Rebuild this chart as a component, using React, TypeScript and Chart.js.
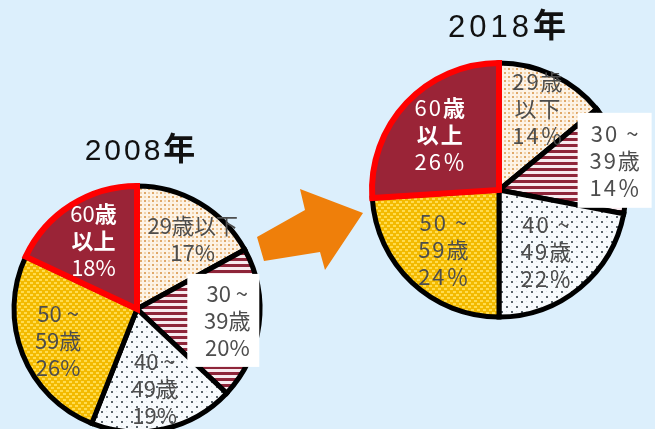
import React, { useEffect, useRef } from "react";
import { Chart, registerables } from "chart.js";

Chart.register(...registerables);

// ---- data ----
const CATEGORIES = ["29歳以下", "30～39歳", "40～49歳", "50～59歳", "60歳以上"];
const VALUES_2008 = [17, 20, 19, 26, 18];
const VALUES_2018 = [14, 14, 22, 24, 26];
const YEAR_2008 = "2008";
const YEAR_2018 = "2018";
const YEAR_SUFFIX = "年";
// label lines (before the percentage); *...* marks bold text
const LINES_2008 = [["29歳以下"], ["30 ~", "39歳"], ["40 ~", "49歳"], ["50 ~", "59歳"], ["60*歳*", "*以上*"]];
const LINES_2018 = [["29歳", "以下"], ["30 ~", "39歳"], ["40 ~", "49歳"], ["50 ~", "59歳"], ["60*歳*", "*以上*"]];

const BG = "#DCEFFC";
const CJK = "'Noto Sans CJK JP', 'Noto Sans', sans-serif";

function makePatterns(): (CanvasPattern | string)[] {
  const mk = (w: number, h: number, draw: (c: CanvasRenderingContext2D) => void) => {
    const cv = document.createElement("canvas");
    cv.width = w;
    cv.height = h;
    const c = cv.getContext("2d")!;
    draw(c);
    return c.createPattern(cv, "repeat")!;
  };
  const dots = mk(8, 8, (c) => {
    c.fillStyle = "#FDF3E6";
    c.fillRect(0, 0, 8, 8);
    c.fillStyle = "#E0A868";
    c.fillRect(0, 0, 2, 2);
    c.fillRect(4, 4, 2, 2);
    c.fillStyle = "#F1D3AC";
    c.fillRect(4, 0, 2, 2);
    c.fillRect(0, 4, 2, 2);
  });
  const stripes = mk(6, 6, (c) => {
    c.fillStyle = "#F7EAEE";
    c.fillRect(0, 0, 6, 6);
    c.fillStyle = "#8E2539";
    c.fillRect(0, 0, 6, 3);
  });
  const grayDots = mk(10, 10, (c) => {
    c.fillStyle = "#F7FAFC";
    c.fillRect(0, 0, 10, 10);
    c.fillStyle = "#5B646C";
    c.fillRect(1, 1, 2, 2);
    c.fillRect(6, 6, 2, 2);
    c.fillStyle = "#DDE3E8";
    c.fillRect(6, 1, 1, 1);
    c.fillRect(1, 6, 1, 1);
  });
  const yellow = mk(6, 6, (c) => {
    c.fillStyle = "#F3BA00";
    c.fillRect(0, 0, 6, 6);
    c.fillStyle = "#FFDC50";
    c.fillRect(0, 0, 3, 2);
    c.fillRect(3, 3, 3, 2);
  });
  return [dots, stripes, grayDots, yellow, "#9A2437"];
}

function drawRich(
  ctx: CanvasRenderingContext2D,
  text: string,
  cx: number,
  cy: number,
  size: number,
  family: string,
  spacing: number,
  color: string
) {
  const segs = text
    .split("*")
    .map((t, i) => ({ t, bold: i % 2 === 1 }))
    .filter((s) => s.t.length > 0);
  ctx.save();
  (ctx as any).letterSpacing = spacing + "px";
  ctx.textBaseline = "middle";
  ctx.textAlign = "left";
  ctx.fillStyle = color;
  let total = 0;
  const widths = segs.map((s) => {
    ctx.font = `${s.bold ? "bold " : ""}${size}px ${family}`;
    const w = ctx.measureText(s.t).width;
    total += w;
    return w;
  });
  total -= spacing;
  let x = cx - total / 2;
  segs.forEach((s, i) => {
    ctx.font = `${s.bold ? "bold " : ""}${size}px ${family}`;
    ctx.fillText(s.t, x, cy);
    x += widths[i];
  });
  ctx.restore();
}

interface LabelCfg {
  lines: string[][];
  pct: string;
  radius: number[];
  nudge: number[][];
  size: number;
  lineHeight: number;
  spacing: number;
  colors: string[];
  boxes: ({ w: number; h: number; dx: number } | null)[];
}

function labelPlugin(cfg: LabelCfg) {
  return {
    id: "sliceLabels",
    afterDatasetsDraw(chart: any) {
      const ctx: CanvasRenderingContext2D = chart.ctx;
      const meta = chart.getDatasetMeta(0);
      const values = chart.data.datasets[0].data as number[];
      meta.data.forEach((arc: any, i: number) => {
        const p = arc.getProps(["x", "y", "startAngle", "endAngle", "outerRadius"], true);
        const mid = (p.startAngle + p.endAngle) / 2;
        const f = cfg.radius[i];
        const [nx, ny] = cfg.nudge[i];
        const cx = p.x + Math.cos(mid) * p.outerRadius * f + nx;
        const cy = p.y + Math.sin(mid) * p.outerRadius * f + ny;
        const lines = [...cfg.lines[i], `${values[i]}${cfg.pct}`];
        const box = cfg.boxes[i];
        if (box) {
          ctx.save();
          ctx.fillStyle = "#FFFFFF";
          ctx.fillRect(cx - box.w / 2 + box.dx, cy - box.h / 2, box.w, box.h);
          ctx.restore();
        }
        lines.forEach((ln, k) => {
          const ly = cy + (k - (lines.length - 1) / 2) * cfg.lineHeight;
          drawRich(ctx, ln, cx, ly, cfg.size, CJK, cfg.spacing, cfg.colors[i]);
        });
      });
    },
  };
}

function titlePlugin(year: string, size: number, spacing: number, dx: number, gap: number) {
  return {
    id: "yearTitle",
    afterDraw(chart: any) {
      const ctx: CanvasRenderingContext2D = chart.ctx;
      const { left, right, top } = chart.chartArea;
      ctx.save();
      ctx.textBaseline = "alphabetic";
      ctx.textAlign = "left";
      ctx.fillStyle = "#111111";
      (ctx as any).letterSpacing = spacing + "px";
      ctx.font = `${size}px 'Liberation Sans', Arial, sans-serif`;
      const w1 = ctx.measureText(year).width;
      (ctx as any).letterSpacing = "0px";
      ctx.font = `bold ${size + 2}px ${CJK}`;
      const w2 = ctx.measureText(YEAR_SUFFIX).width;
      const x0 = (left + right) / 2 + dx - (w1 + w2) / 2;
      const by = top - gap;
      (ctx as any).letterSpacing = spacing + "px";
      ctx.font = `${size}px 'Liberation Sans', Arial, sans-serif`;
      ctx.fillText(year, x0, by);
      (ctx as any).letterSpacing = "0px";
      ctx.font = `bold ${size + 2}px ${CJK}`;
      ctx.fillText(YEAR_SUFFIX, x0 + w1, by);
      ctx.restore();
    },
  };
}

function makePie(
  canvas: HTMLCanvasElement,
  values: number[],
  padding: { left: number; top: number; right: number; bottom: number },
  plugins: any[]
) {
  return new Chart(canvas, {
    type: "pie",
    data: {
      labels: CATEGORIES,
      datasets: [
        {
          data: values,
          backgroundColor: makePatterns() as any,
          borderColor: ["#000000", "#000000", "#000000", "#000000", "#FF0000"],
          borderWidth: [5, 5, 5, 5, 6],
          borderJoinStyle: "miter",
          hoverOffset: 0,
          offset: 0,
        } as any,
      ],
    },
    options: {
      responsive: false,
      animation: false,
      events: [],
      layout: { padding },
      plugins: {
        legend: { display: false },
        tooltip: { enabled: false },
        title: { display: false },
      },
    },
    plugins,
  });
}

export default function App() {
  const ref1 = useRef<HTMLCanvasElement>(null);
  const ref2 = useRef<HTMLCanvasElement>(null);

  useEffect(() => {
    const c1 = makePie(ref1.current!, VALUES_2008, { left: 11, top: 183, right: 392, bottom: 15 }, [
      labelPlugin({
        lines: LINES_2008,
        pct: "%",
        radius: [0.73, 0.74, 0.66, 0.69, 0.66],
        nudge: [[10, 7], [0, 0], [0, 0], [0, 0], [0, 0]],
        size: 22,
        lineHeight: 27,
        spacing: 0,
        colors: ["#4D4D4D", "#4D4D4D", "#4D4D4D", "#4D4D4D", "#FFFFFF"],
        boxes: [null, { w: 72, h: 93, dx: -4 }, null, null, null],
      }),
      titlePlugin(YEAR_2008, 30, 3, 3, 23),
    ]);
    const c2 = makePie(ref2.current!, VALUES_2018, { left: 369, top: 60, right: 26, bottom: 130 }, [
      labelPlugin({
        lines: LINES_2018,
        pct: "％",
        radius: [0.71, 0.94, 0.63, 0.64, 0.64],
        nudge: [[0, 0], [0, 0], [-4, 0], [0, 0], [0, 0]],
        size: 22,
        lineHeight: 27,
        spacing: 2,
        colors: ["#4D4D4D", "#4D4D4D", "#4D4D4D", "#4D4D4D", "#FFFFFF"],
        boxes: [null, { w: 74, h: 95, dx: 0 }, null, null, null],
      }),
      titlePlugin(YEAR_2018, 31, 4, 8, 23),
    ]);
    return () => {
      c1.destroy();
      c2.destroy();
    };
  }, []);

  return (
    <div
      style={{
        position: "absolute",
        left: 0,
        top: 0,
        width: 655,
        height: 429,
        overflow: "hidden",
        background: BG,
      }}
    >
      <svg
        width={655}
        height={429}
        style={{ position: "absolute", left: 0, top: 0 }}
      >
        <polygon
          points="257,237 305,210 300,189 363,213 325,270 320,252 264,261"
          fill="#EF7F0A"
        />
      </svg>
      <canvas
        ref={ref1}
        width={655}
        height={450}
        style={{ position: "absolute", left: 0, top: 0, display: "block" }}
      />
      <canvas
        ref={ref2}
        width={655}
        height={450}
        style={{ position: "absolute", left: 0, top: 0, display: "block" }}
      />
    </div>
  );
}
